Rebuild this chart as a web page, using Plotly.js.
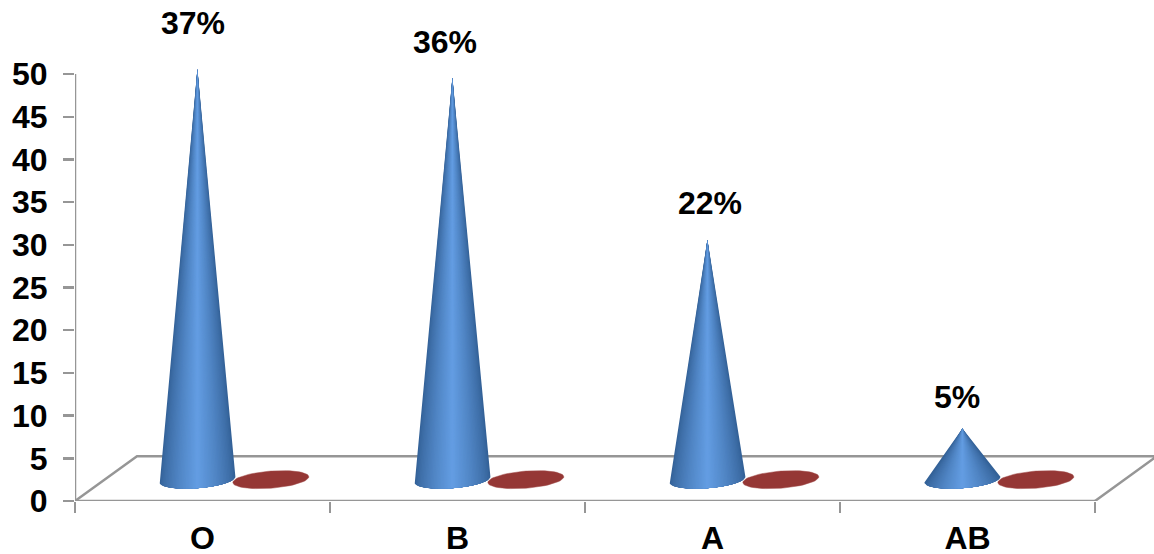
<!DOCTYPE html>
<html><head><meta charset="utf-8">
<script src="https://cdn.plot.ly/plotly-3.0.1.min.js"></script>
<style>html,body{margin:0;padding:0;background:#fff}#c{width:1154px;height:554px}</style>
</head><body><div id="c"></div>
<script>
const categories = ["O","B","A","AB"];
const seriesBlue = [48.1, 47.1, 28.1, 6.0];
const seriesRed = [0, 0, 0, 0];
const percentLabels = ["37%","36%","22%","5%"];
const labelShiftX = [-4, -7, 3, -5];
const labelShiftY = [46, 35, 37, 31];
const yTicks = [0,5,10,15,20,25,30,35,40,45,50];

// 3-D look of the original: depth of floor and the placement of the cones on it
const floorDepthX = 0.243, floorDepthY = 5.25, floorLift = 2.5;
const blueOffset = 0.48, redOffset = 0.768;
const radiusX = 0.149, radiusY = 1.0, tilt = 0.33;
const edge = [52,98,152], mid = [100,158,228];
const BANDS = 26;
const axisColor = '#969696';

function lerp(a,b,t){return a.map((v,i)=>Math.round(v+(b[i]-v)*t));}
function arc(cx,cy,k){
  const xs=[],ys=[],n=24;
  const t0=Math.acos(k);
  for(let i=0;i<=n;i++){
    const t=Math.PI-t0-(Math.PI-2*t0)*i/n;
    const c=Math.cos(t),s=Math.sin(t);
    xs.push(cx+radiusX*c);
    ys.push(cy-radiusY*s+tilt*c);
  }
  return [xs,ys];
}
const nCat=categories.length, yMax=yTicks[yTicks.length-1];
const traces=[];
// floor
traces.push({x:[0,floorDepthX,nCat+floorDepthX,nCat],y:[0,floorDepthY,floorDepthY,0],mode:'lines',
  line:{color:axisColor,width:2.5},cliponaxis:false,hoverinfo:'skip'});
// axis lines
traces.push({x:[0,0,nCat],y:[yMax,0,0],mode:'lines',line:{color:axisColor,width:2.5},cliponaxis:false,hoverinfo:'skip'});
// red flat cones (zero-height series)
{
  const xs=[],ys=[];
  seriesRed.forEach((v,i)=>{
    const cx=i+redOffset, cy=floorLift+v;
    for(let j=0;j<=60;j++){
      const t=2*Math.PI*j/60;
      xs.push(cx+radiusX*Math.cos(t));
      ys.push(cy+radiusY*Math.sin(t)+tilt*Math.cos(t));
    }
    xs.push(null);ys.push(null);
  });
  traces.push({x:xs,y:ys,mode:'lines',fill:'toself',fillcolor:'#953735',line:{width:0.5,color:'#a04a48'},cliponaxis:false,hoverinfo:'skip'});
}
// blue cones: nested shapes from the outer rim to the centre give the shading
for(let b=0;b<BANDS;b++){
  const k=1-b/BANDS, shade=Math.pow(1-k,0.75);
  const col=lerp(edge,mid,shade);
  const xs=[],ys=[];
  seriesBlue.forEach((v,i)=>{
    const cx=i+blueOffset, cy=floorLift, apex=cy+v;
    const [ax,ay]=arc(cx,cy,k);
    xs.push(cx,...ax,cx,null);
    ys.push(apex,...ay,apex,null);
  });
  traces.push({x:xs,y:ys,mode:'lines',fill:'toself',fillcolor:`rgb(${col})`,line:{width:0},cliponaxis:false,hoverinfo:'skip'});
}
const font={family:'"Liberation Sans",Arial,sans-serif',size:32,color:'#000',weight:700};
const layout={
  width:1154,height:554,showlegend:false,paper_bgcolor:'#fff',plot_bgcolor:'rgba(0,0,0,0)',
  margin:{l:75,r:0,t:57,b:53,pad:0},
  xaxis:{range:[0,1079/255],tickmode:'array',tickvals:categories.map((c,i)=>i+0.5),ticktext:categories,
    ticks:'',showgrid:false,zeroline:false,showline:false,
    tickfont:font,ticklabelstandoff:15,
    minor:{tickmode:'array',tickvals:[0,1,2,3,4],ticks:'outside',ticklen:11,tickwidth:2.5,tickcolor:axisColor,showgrid:false}},
  yaxis:{range:[0,52],tickmode:'array',tickvals:yTicks,ticks:'outside',ticklen:11,tickwidth:2.5,tickcolor:axisColor,
    showgrid:false,zeroline:false,showline:false,tickfont:font,ticklabelstandoff:9},
  annotations:percentLabels.map((t,i)=>({text:t,x:i+blueOffset,y:floorLift+seriesBlue[i],xref:'x',yref:'y',
    xshift:labelShiftX[i],yshift:labelShiftY[i],showarrow:false,font:font,xanchor:'center',yanchor:'middle'}))
};
Plotly.newPlot('c',traces,layout,{displayModeBar:false,staticPlot:true});
</script></body></html>
